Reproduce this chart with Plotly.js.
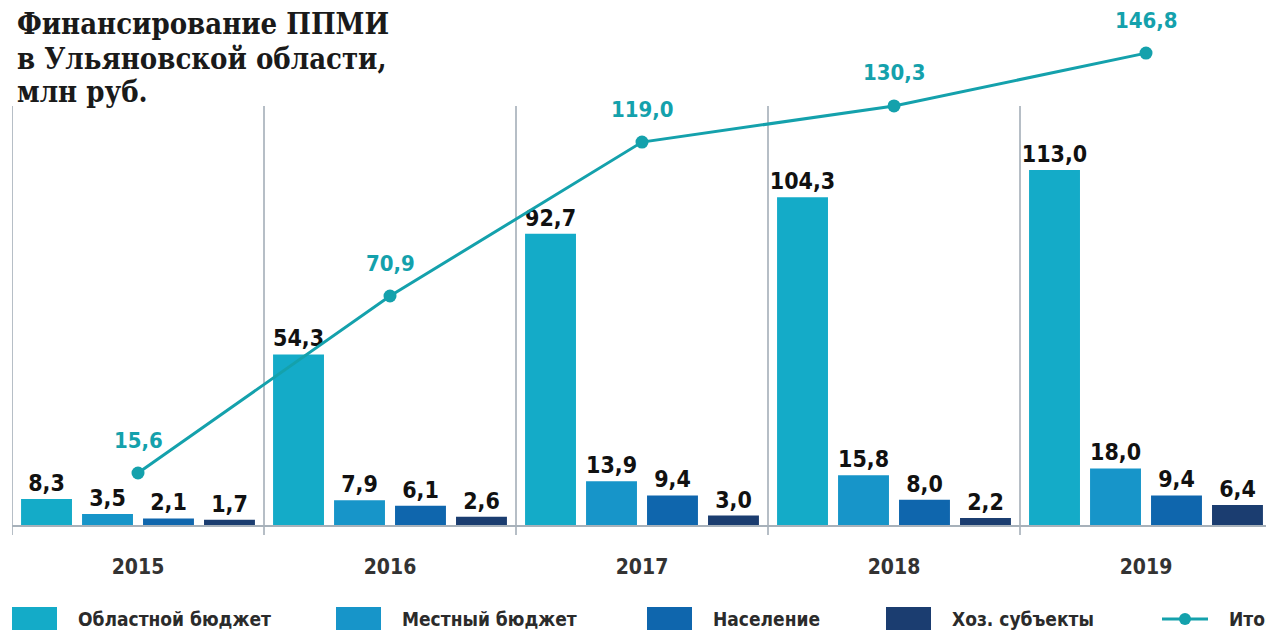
<!DOCTYPE html>
<html>
<head>
<meta charset="utf-8">
<script src="https://cdn.plot.ly/plotly-3.0.1.min.js"></script>
<style>html,body{margin:0;padding:0;background:#fff;}#chart{width:1266px;height:630px;}</style>
</head>
<body>
<div id="chart"></div>
<script>
const years = ['2015', '2016', '2017', '2018', '2019'];
const seriesNames = ['Областной бюджет', 'Местный бюджет', 'Население', 'Хоз. субъекты'];
const totalName = 'Итого';
const oblast = [8.3, 54.3, 92.7, 104.3, 113.0];
const mestny = [3.5, 7.9, 13.9, 15.8, 18.0];
const naselenie = [2.1, 6.1, 9.4, 8.0, 9.4];
const hoz = [1.7, 2.6, 3.0, 2.2, 6.4];
const itogo = [15.6, 70.9, 119.0, 130.3, 146.8];
const titleLines = ['Финансирование ППМИ', 'в Ульяновской области,', 'млн руб.'];

const seriesValues = [oblast, mestny, naselenie, hoz];
const colors = ['#14abc8', '#1795c9', '#0f66ad', '#1b3d70'];
const lineColor = '#14a1ac';
const narrow = '"DejaVu Sans Condensed", "Liberation Sans Narrow", sans-serif';

const L = 12, W = 1254, T = 40, B = 525, H = B - T;
const px2x = p => (p - L) / W;
const py2y = p => (B - p) / H;

const traces = seriesValues.map((vals, i) => ({
  type: 'bar', name: seriesNames[i], x: years, y: vals,
  marker: {color: colors[i], line: {width: 0}},
  texttemplate: '%{y:.1f}', textposition: 'outside', cliponaxis: false, constraintext: 'none',
  textfont: {family: narrow, size: 23, color: '#111', weight: 'bold'},
  hoverinfo: 'x+y', showlegend: false
}));
traces.push({
  type: 'scatter', mode: 'lines+markers', name: totalName, x: years, y: itogo, yaxis: 'y2',
  line: {color: lineColor, width: 3}, marker: {color: lineColor, size: 13},
  cliponaxis: false, showlegend: false
});

const shapes = [];
for (let i = 0; i < years.length; i++) {
  shapes.push({type: 'line', xref: 'x', yref: 'paper', x0: i - 0.5, x1: i - 0.5,
    y0: py2y(535), y1: py2y(106), line: {color: '#9ea9b3', width: 1.5}, layer: 'below'});
}
const annotations = [];
const titleCenters = [24, 59, 92];
titleLines.forEach((t, i) => {
  annotations.push({xref: 'paper', yref: 'paper', x: px2x(15), y: py2y(titleCenters[i]), xanchor: 'left', yanchor: 'middle',
    align: 'left', showarrow: false, text: t,
    font: {family: '"DejaVu Serif Condensed", "DejaVu Serif", serif', size: 29, color: '#1a1a1a', weight: 'bold'}});
});
itogo.forEach((v, i) => {
  annotations.push({xref: 'x', yref: 'y2', x: i, y: v, yshift: 33, showarrow: false,
    text: v.toFixed(1).replace('.', ','), font: {family: narrow, size: 22, color: lineColor, weight: 'bold'}});
});
// legend
const legSwatchX = [12, 336, 647, 886];
const legTextX = [76, 400, 711, 950];
seriesNames.forEach((n, i) => {
  shapes.push({type: 'rect', xref: 'paper', yref: 'paper', x0: px2x(legSwatchX[i]), x1: px2x(legSwatchX[i] + 45),
    y0: py2y(630), y1: py2y(607), fillcolor: colors[i], line: {width: 0}});
  annotations.push({xref: 'paper', yref: 'paper', x: px2x(legTextX[i]), y: py2y(619), xanchor: 'left', yanchor: 'middle',
    showarrow: false, text: n, font: {family: narrow, size: 19, color: '#2b2b2b', weight: 'bold'}});
});
shapes.push({type: 'line', xref: 'paper', yref: 'paper', x0: px2x(1162), x1: px2x(1208), y0: py2y(619), y1: py2y(619),
  line: {color: lineColor, width: 3}});
shapes.push({type: 'circle', xref: 'paper', yref: 'paper', x0: px2x(1179), x1: px2x(1191), y0: py2y(625), y1: py2y(613),
  fillcolor: lineColor, line: {width: 0}});
annotations.push({xref: 'paper', yref: 'paper', x: px2x(1227), y: py2y(619), xanchor: 'left', yanchor: 'middle',
  showarrow: false, text: totalName, font: {family: narrow, size: 19, color: '#2b2b2b', weight: 'bold'}});

const layout = {
  width: 1266, height: 630,
  margin: {l: L, r: 0, t: T, b: 630 - B, pad: 0},
  paper_bgcolor: '#fff', plot_bgcolor: 'rgba(0,0,0,0)',
  separators: ', ',
  barmode: 'group', bargap: 0.032, bargroupgap: 0.165,
  showlegend: false,
  xaxis: {type: 'category', categoryorder: 'array', categoryarray: years, range: [-0.5, -0.5 + W / 252],
    showline: true, linecolor: '#a7b1ba', linewidth: 2, ticks: '', showgrid: false, zeroline: false,
    ticklabelstandoff: 22, tickfont: {family: narrow, size: 21, color: '#333', weight: 'bold'}, fixedrange: true},
  yaxis: {range: [0, H / 3.142], visible: false, showgrid: false, zeroline: false, fixedrange: true},
  yaxis2: {range: [-0.65, 150.9], overlaying: 'y', visible: false, showgrid: false, zeroline: false, fixedrange: true},
  shapes: shapes, annotations: annotations
};
Plotly.newPlot('chart', traces, layout, {displayModeBar: false, staticPlot: true});
</script>
</body>
</html>
